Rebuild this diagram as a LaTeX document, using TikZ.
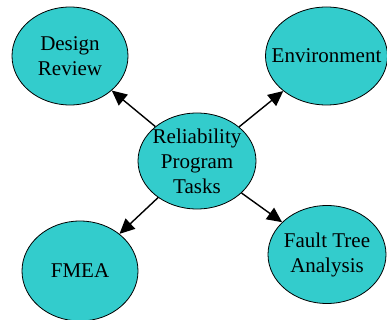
\documentclass[tikz,border=0pt]{standalone}
\usepackage{fontspec}
\setmainfont{Liberation Serif}
\usetikzlibrary{shapes.geometric,arrows.meta}
\definecolor{bubfill}{RGB}{51,204,204}
\tikzset{
  bub/.style={ellipse, draw=black, line width=0.8pt, fill=bubfill, inner sep=0pt},
  txt/.style={align=center, inner sep=0pt, font=\fontsize{21}{25}\selectfont},
  arr/.style={line width=1.4pt, -{Triangle[length=15pt,width=14pt]}}
}
\begin{document}
\begin{tikzpicture}[x=1pt,y=-1pt]
\useasboundingbox (0,0) rectangle (387,320);
\node[bub, minimum width=116pt, minimum height=98pt] (dr) at (70,56) {};
\node[txt] (drt) at (dr) {Design\\Review};
\node[bub, minimum width=122pt, minimum height=98pt] (env) at (326.5,56) {};
\node[txt] (envt) at (env) {Environment};
\node[bub, minimum width=118pt, minimum height=96pt] (rel) at (197,161) {};
\node[txt] (relt) at (rel) {Reliability\\Program\\Tasks};
\node[bub, minimum width=116pt, minimum height=100pt] (fm) at (80,271) {};
\node[txt] (fmt) at (fm) {FMEA};
\node[bub, minimum width=118pt, minimum height=98pt] (ft) at (327,254.5) {};
\node[txt] (ftt) at (ft) {Fault Tree\\Analysis};
\draw[arr] (rel) -- (dr);
\draw[arr] (rel) -- (env);
\draw[arr] (rel) -- (fm);
\draw[arr] (rel) -- (ft);
\end{tikzpicture}
\end{document}
